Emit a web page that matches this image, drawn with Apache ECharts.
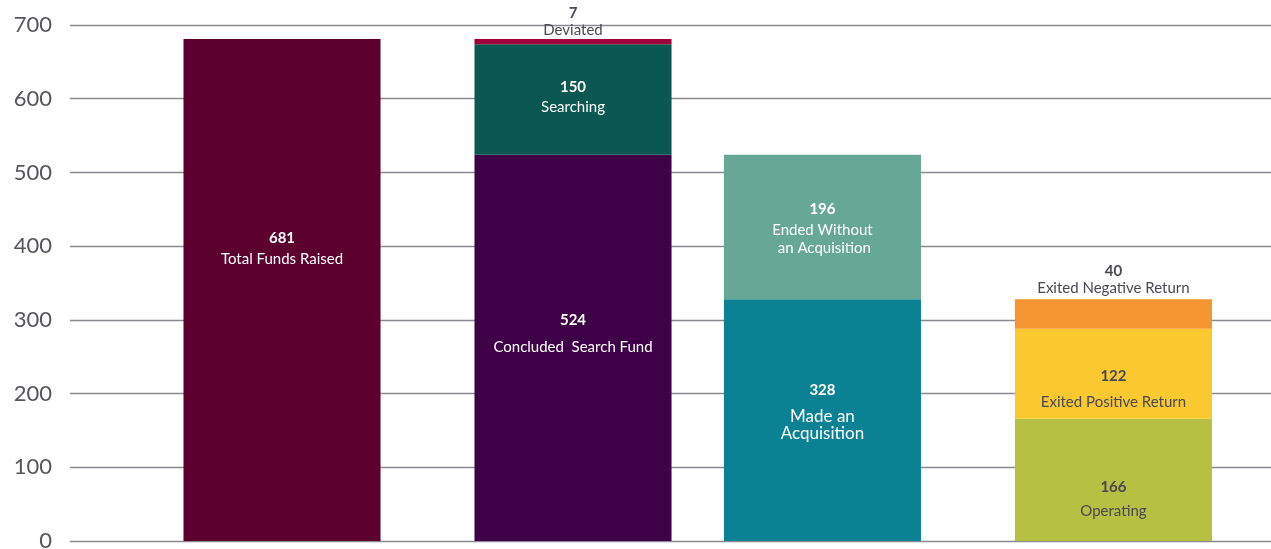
<!DOCTYPE html>
<html>
<head>
<meta charset="utf-8">
<script src="https://cdn.jsdelivr.net/npm/echarts@6/dist/echarts.min.js"></script>
<style>
  html, body { margin: 0; padding: 0; background: #ffffff; }
  #chart { width: 1271px; height: 549px; }
</style>
</head>
<body>
<div id="chart"></div>
<script>
// ---- data ----
const barCategories = ['Funds Raised', 'Search Status', 'Search Outcome', 'Acquisition Outcome'];
const segmentNames  = ['Total Funds Raised', 'Concluded  Search Fund', 'Searching', 'Deviated',
                       'Made an\nAcquisition', 'Ended Without\n an Acquisition',
                       'Operating', 'Exited Positive Return', 'Exited Negative Return'];
const segmentValues = [681, 524, 150, 7, 328, 196, 166, 122, 40];
const segmentBar    = [0, 1, 1, 1, 2, 2, 3, 3, 3];
const yTicks        = [0, 100, 200, 300, 400, 500, 600, 700];

// ---- layout / style (not data) ----
const barSlot  = [0, 7, 13, 20];     // relative horizontal spacing of the four bars
const xRange   = [-5.1, 23.79];      // visible horizontal extent in slot units
const barWidthSlots = 4.74;          // bar width in slot units
const colors = ['#5c002e', '#3e0047', '#0b5752', '#a1003a', '#0b8294', '#66a795', '#b6c043', '#fac92f', '#f39631'];
const WHITE = '#ffffff', DARK = '#4b4853';
const labelStyles = [
  { pos: 'inside', off: -41.5, color: WHITE, vLh: 21, nLh: 21, nSize: 15 },
  { pos: 'inside', off: -14.5, color: WHITE, vLh: 27, nLh: 27, nSize: 15 },
  { pos: 'inside', off: -2.5,  color: WHITE, vLh: 20, nLh: 20, nSize: 15 },
  { pos: 'top',    dist: 0,    color: DARK,  vLh: 17, nLh: 17, nSize: 15 },
  { pos: 'inside', off: -13,   color: WHITE, vLh: 36, nLh: 17, nSize: 17 },
  { pos: 'inside', off: 0,     color: WHITE, vLh: 24, nLh: 18, nSize: 15 },
  { pos: 'inside', off: 19,    color: DARK,  vLh: 24, nLh: 24, nSize: 15 },
  { pos: 'inside', off: 15,    color: DARK,  vLh: 26, nLh: 26, nSize: 15 },
  { pos: 'top',    dist: 3,    color: DARK,  vLh: 17, nLh: 17, nSize: 15 }
];
const FONT = 'Lato, "Open Sans", sans-serif';

// stack segments of each bar (cumulative base / top computed from the values)
const running = barCategories.map(() => 0);
const segData = segmentValues.map((v, k) => {
  const b = segmentBar[k];
  const base = running[b];
  running[b] += v;
  return { value: [barSlot[b], base, base + v, k], name: segmentNames[k].replace('\n', ' ') };
});

function renderItem(params, api) {
  const x = api.value(0), base = api.value(1), top = api.value(2), k = api.value(3);
  const pTop = api.coord([x, top]);
  const pBase = api.coord([x, base]);
  const w = api.size([barWidthSlots, 0])[0];
  const ls = labelStyles[k];
  const nameLines = segmentNames[k].split('\n').map(s => '{n|' + s + '}').join('\n');
  const textConfig = { position: ls.pos };
  if (ls.pos === 'inside') textConfig.offset = [0, ls.off];
  else textConfig.distance = ls.dist;
  return {
    type: 'rect',
    shape: { x: pTop[0] - w / 2, y: pTop[1], width: w, height: pBase[1] - pTop[1] },
    style: { fill: colors[k] },
    textContent: {
      type: 'text',
      style: {
        text: '{v|' + (top - base) + '}\n' + nameLines,
        align: 'center',
        rich: {
          v: { fontFamily: FONT, fontSize: 15, fontWeight: 'bold', fill: ls.color, lineHeight: ls.vLh, align: 'center' },
          n: { fontFamily: FONT, fontSize: ls.nSize, fill: ls.color, lineHeight: ls.nLh, align: 'center' }
        }
      }
    },
    textConfig: textConfig
  };
}

const chart = echarts.init(document.getElementById('chart'), null, { renderer: 'canvas' });
chart.setOption({
  animation: false,
  backgroundColor: '#ffffff',
  grid: { left: 70, right: 0, top: 25, bottom: 8, outerBoundsMode: 'none' },
  xAxis: { type: 'value', show: false, min: xRange[0], max: xRange[1] },
  yAxis: {
    type: 'value', min: yTicks[0], max: yTicks[yTicks.length - 1], interval: 100,
    axisLine: { show: false }, axisTick: { show: false },
    axisLabel: { fontFamily: FONT, fontSize: 22, color: '#57545e', margin: 18 },
    splitLine: { show: true, lineStyle: { color: '#8a8893', width: 1.3 } }
  },
  series: [{
    type: 'custom',
    renderItem: renderItem,
    encode: { x: 0, y: [1, 2] },
    data: segData,
    silent: true,
    clip: false
  }]
});
</script>
</body>
</html>
